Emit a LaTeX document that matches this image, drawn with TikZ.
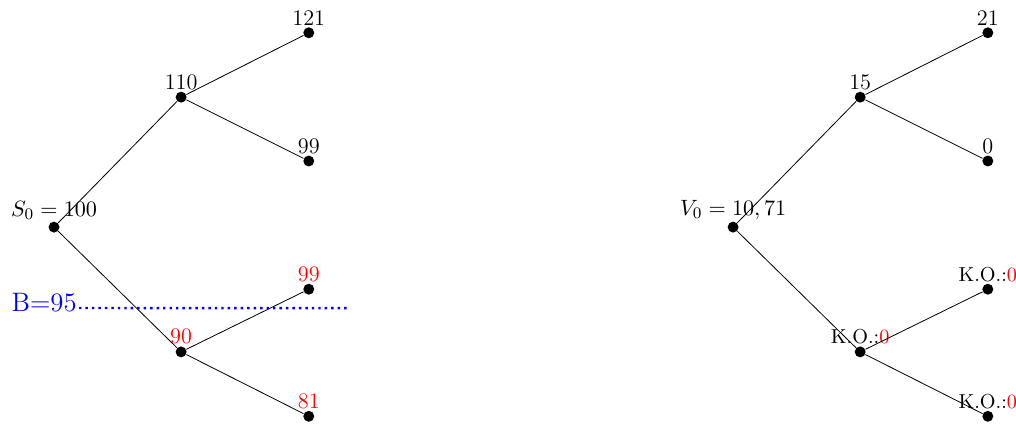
\documentclass[tikz,border=0pt]{standalone}
\usepackage{xcolor}
\usetikzlibrary{positioning}
\tikzset{
  dot/.style={circle, fill=black, inner sep=0pt, minimum size=0.19cm, label distance=0pt},
  every label/.style={font=\fontsize{11}{13}\selectfont, inner sep=0.6pt},
  branch/.style={draw=black, line width=0.4pt},
  barrier/.style={draw=blue, dotted, line width=1.2pt},
  ko/.style={label={[font=\fontsize{10}{12}\selectfont]above:{K.O.:\textcolor{red}{0}}}},
}

\begin{document}
\begin{tikzpicture}
  \useasboundingbox (0,0) rectangle (17.67,7.41);
  % stock tree
  \node[dot, label={above:$S_0=100$}] (s0) at (0.94,3.46) {};
  \node[dot, label={above:110}] (su) at (3.15,5.72) {};
  \node[dot, label={[red]above:90}] (sd) at (3.15,1.29) {};
  \node[dot, label={above:121}] (suu) at (5.37,6.84) {};
  \node[dot, label={above:99}] (sud) at (5.37,4.61) {};
  \node[dot, label={[red]above:99}] (sdu) at (5.37,2.38) {};
  \node[dot, label={[red]above:81}] (sdd) at (5.37,0.17) {};
  \draw[branch] (s0) -- (su);
  \draw[branch] (s0) -- (sd);
  \draw[branch] (su) -- (suu);
  \draw[branch] (su) -- (sud);
  \draw[branch] (sd) -- (sdu);
  \draw[branch] (sd) -- (sdd);
  % barrier
  \node[anchor=base west, text=blue, font=\fontsize{13.2}{15}\selectfont, inner sep=1pt] (bar) at (0.16,1.99) {B=95};
  \coordinate (barend) at (6.05,2.05);
  \draw[barrier] ([yshift=1.8pt]bar.base east) -- (barend);
  % option tree
  \node[dot, label={above:$V_0=10,71$}] (v0) at (12.75,3.46) {};
  \node[dot, label={above:15}] (vu) at (14.96,5.72) {};
  \node[dot, ko] (vd) at (14.96,1.29) {};
  \node[dot, label={above:21}] (vuu) at (17.18,6.84) {};
  \node[dot, label={above:0}] (vud) at (17.18,4.61) {};
  \node[dot, ko] (vdu) at (17.18,2.38) {};
  \node[dot, ko] (vdd) at (17.18,0.17) {};
  \draw[branch] (v0) -- (vu);
  \draw[branch] (v0) -- (vd);
  \draw[branch] (vu) -- (vuu);
  \draw[branch] (vu) -- (vud);
  \draw[branch] (vd) -- (vdu);
  \draw[branch] (vd) -- (vdd);
\end{tikzpicture}
\end{document}
